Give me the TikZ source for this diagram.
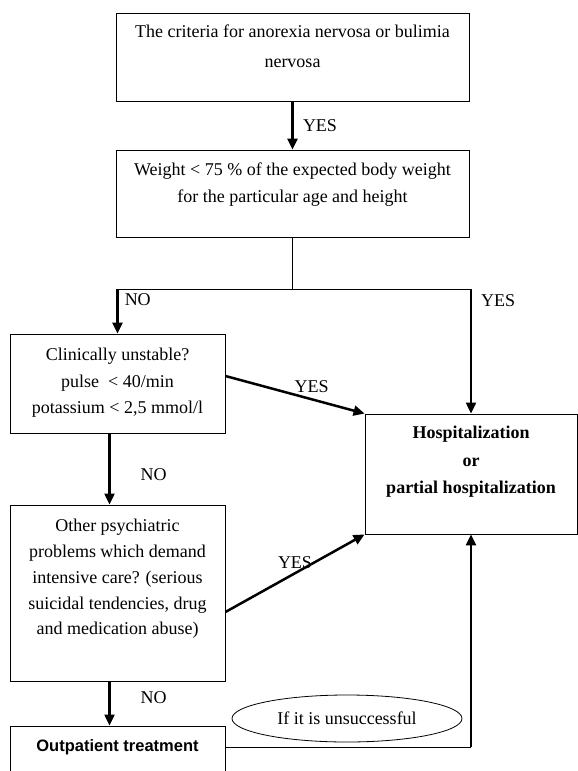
\documentclass[tikz,border=0pt]{standalone}
\usepackage{fontspec}
\setmainfont{Liberation Serif}
\newfontfamily\outpfont{Liberation Sans}
\usetikzlibrary{positioning,arrows.meta,shapes.geometric}

\tikzset{
  box/.style = {draw, line width=0.9pt, inner sep=0pt},
  txt/.style = {align=center, anchor=north, inner sep=0pt, font=\fontsize{18}{26.5}\selectfont},
  lbl/.style = {inner sep=0pt, font=\fontsize{18}{20}\selectfont},
  arr/.style = {-{Triangle[length=11pt,width=10pt]}, line width=2.5pt},
  thinline/.style = {line width=0.9pt},
}

\begin{document}
\begin{tikzpicture}[x=1pt, y=-1pt]
                \useasboundingbox (0,0) rectangle (578,771);
                \clip (0,0) rectangle (578,771);

                % boxes
                \node[box, minimum width=353pt, minimum height=88pt] (crit) at (292.5,57) {};
                \node[box, minimum width=353pt, minimum height=87pt] (weight) at (292.5,193.5) {};
                \node[box, minimum width=215pt, minimum height=99pt] (clin) at (117.5,383.5) {};
                \node[box, minimum width=212pt, minimum height=120pt] (hosp) at (471,474) {};
                \node[box, minimum width=215pt, minimum height=176pt] (other) at (117.5,593) {};
                \node[box, minimum width=215pt, minimum height=70pt] (outp) at (117.5,761) {};
                \node[draw, ellipse, line width=0.8pt, minimum width=230pt, minimum height=47pt,
                      inner sep=0pt, font=\fontsize{18}{20}\selectfont] (fail) at (347,718.5) {If it is unsuccessful};

                % texts
                \node[txt, font=\fontsize{18}{30}\selectfont] (critt) at (292.5,25) {The criteria for anorexia nervosa or bulimia\\ nervosa};
                \node[txt] (weightt) at (292.5,163) {Weight {\textless} 75 \% of the expected body weight\\ for the particular age and height};
                \node[txt] (clint) at (117.5,348) {Clinically unstable?\\ pulse \ {\textless} 40/min\\ potassium {\textless} 2,5 mmol/l};
                \node[txt, font=\bfseries\fontsize{18}{27.5}\selectfont] (hospt) at (471,426) {Hospitalization\\ or\\ partial hospitalization};
                \node[txt, font=\fontsize{18}{25.8}\selectfont] (othert) at (117.5,519) {Other psychiatric\\ problems which demand\\ intensive care? (serious\\ suicidal tendencies, drug\\ and medication abuse)};
                \node[inner sep=0pt, font=\outpfont\bfseries\fontsize{16.5}{18}\selectfont] (outpt) at (117.5,747) {Outpatient treatment};

                % split below the weight box
                \coordinate (split) at (292.5,289);
                \coordinate (nocorner) at (clin.north |- split);
                \coordinate (yescorner) at (hosp.north |- split);
                \coordinate (back) at (hosp.south |- outpt);

                \draw [arr, line width=3pt] (crit) -- node[lbl, right=9pt] {YES} (weight);
                \draw [thinline] (weight) -- (split);
                \draw [thinline] (nocorner) -- (yescorner);
                \draw [arr] (nocorner) -- node[lbl, pos=0.24, right=6pt] {NO} (clin);
                \draw [arr, line width=2.2pt] (yescorner) -- node[lbl, pos=0.09, right=9pt] {YES} (hosp);
                \draw [arr] ([yshift=7.5pt]clin.east) -- node[lbl, pos=0.62, above=5pt] {YES} (hosp.north west);
                \draw [arr, line width=2.2pt] ([xshift=-8pt]clin.south) -- node[lbl, pos=0.58, right=30pt] {NO} ([xshift=-8pt]other.north);
                \draw [arr] ([yshift=-19pt]other.east) -- node[lbl, pos=0.5, above=3pt] {YES} (hosp.south west);
                \draw [arr, line width=2.2pt] ([xshift=-8pt]other.south) -- node[lbl, pos=0.36, right=30pt] {NO} ([xshift=-8pt]outp.north);
                \draw [thinline] (outp.east |- outpt) -- (back);
                \draw [arr] (back) -- (hosp.south);
\end{tikzpicture}
\end{document}
